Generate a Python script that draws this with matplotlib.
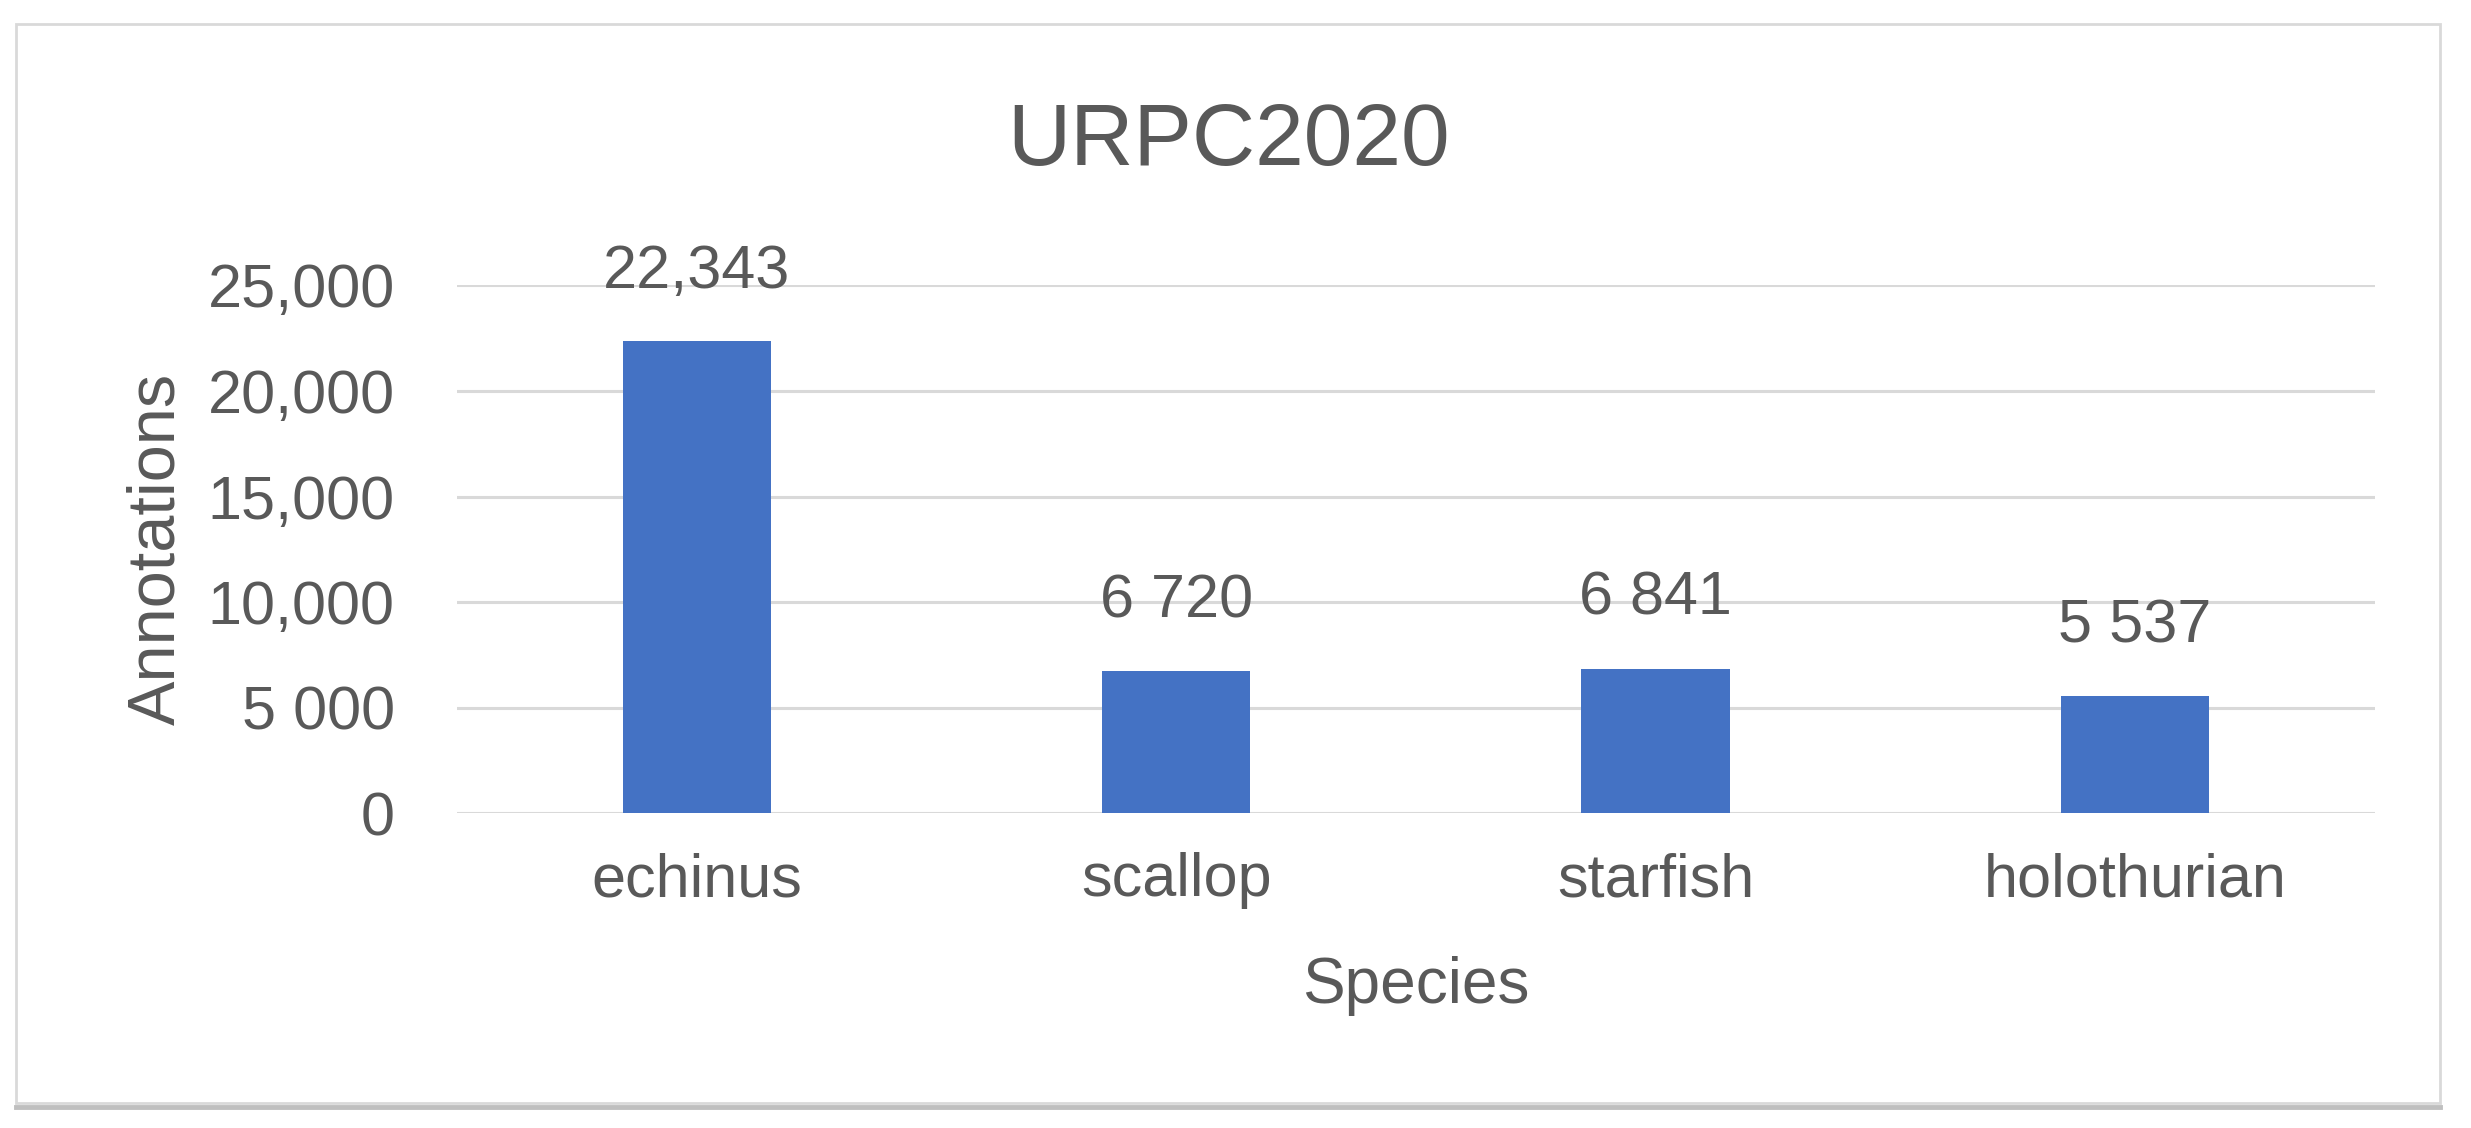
import matplotlib.pyplot as plt
from matplotlib.patches import Rectangle

# Données
species = ["echinus", "scallop", "starfish", "holothurian"]
annotations = [22343, 6720, 6841, 5537]
bar_labels = ["22,343", "6 720", "6 841", "5 537"]
y_ticks = [0, 5000, 10000, 15000, 20000, 25000]
y_tick_labels = ["0", "5 000", "10,000", "15,000", "20,000", "25,000"]

plt.rcParams['font.family'] = ['Liberation Sans', 'DejaVu Sans']
text_color = "#595959"

fig = plt.figure(figsize=(24.71, 11.28), dpi=100)
ax = fig.add_axes([0.185, 0.279, 0.776, 0.468])

x = range(len(species))
ax.bar(x, annotations, width=0.31, color="#4472C4", zorder=3)

for xi, v, lab in zip(x, annotations, bar_labels):
    ax.annotate(lab, (xi, v), xytext=(0, 50), textcoords="offset points",
                ha="center", va="center", fontsize=44, color=text_color)

ax.set_xlim(-0.5, 3.5)
ax.set_ylim(0, 25000)
ax.set_yticks(y_ticks)
ax.set_yticklabels(y_tick_labels)
ax.set_xticks(list(x))
ax.set_xticklabels(species)
ax.tick_params(axis="both", length=0, labelsize=44, labelcolor=text_color)
ax.tick_params(axis="y", pad=45)
ax.tick_params(axis="x", pad=28)

ax.grid(axis="y", color="#D9D9D9", linewidth=2.2, zorder=0)
for s in ax.spines.values():
    s.set_visible(False)

ax.set_xlabel("Species", fontsize=46, color=text_color, labelpad=34)
ax.set_ylabel("Annotations", fontsize=48, color=text_color, labelpad=14)
fig.text(0.497, 0.874, "URPC2020", ha="center", va="center", fontsize=63,
         color=text_color)

# Cadre du graphique
fig.patches.append(Rectangle((0.0065, 0.022), 0.981, 0.957, transform=fig.transFigure,
                             fill=False, edgecolor="#D9D9D9", linewidth=2))
fig.add_artist(plt.Line2D([0.0065, 0.9875], [0.019, 0.019], transform=fig.transFigure,
                          color="#BFBFBF", linewidth=3.5))

fig.savefig("out.png", dpi=100, facecolor="white")
